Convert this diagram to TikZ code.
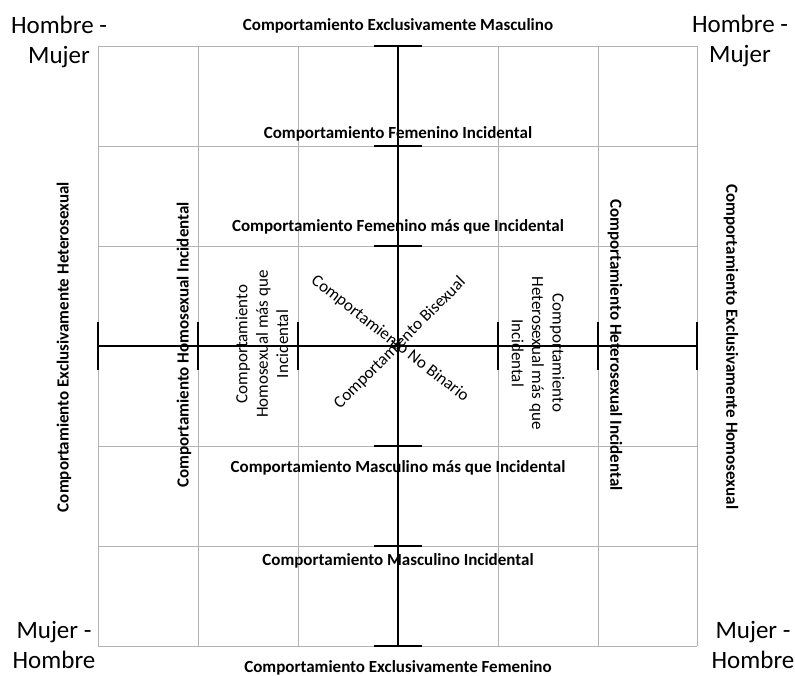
\documentclass[tikz,border=0pt]{standalone}
\usepackage{fontspec}
\setmainfont{Carlito}
\begin{document}
\begin{tikzpicture}[x=1pt,y=-1pt,
  grid/.style={draw=gray!60, line width=0.7pt},
  axis/.style={draw=black, line width=1.8pt},
  lbl/.style={font=\fontsize{17}{20.4}\selectfont\bfseries, inner sep=0pt},
  lblr/.style={font=\fontsize{17}{20.4}\selectfont, inner sep=0pt, align=center},
  corner/.style={font=\fontsize{25}{30}\selectfont, inner sep=0pt, align=center}]
\useasboundingbox (0,0) rectangle (795,675);
% grid
\foreach \x in {98,198,298,498,598,697} \draw[grid] (\x,46) -- (\x,646);
\foreach \y in {46,146,246,446,546,646} \draw[grid] (98,\y) -- (697,\y);
% axes
\coordinate (xl) at (98,346);
\coordinate (xr) at (697,346);
\coordinate (yt) at (398,46);
\coordinate (yb) at (398,646);
\draw[axis] (xl) -- (xr);
\draw[axis] (yt) -- (yb);
\foreach \x in {98,198,298,498,598,697} \draw[axis] (\x,322) -- (\x,370);
\foreach \y in {46,146,246,446,546,646} \draw[axis] (374,\y) -- (422,\y);
% horizontal labels
\node[lbl, anchor=base] (t1) at (398,30) {Comportamiento Exclusivamente Masculino};
\node[lbl, anchor=base] (t2) at (398,138) {Comportamiento Femenino Incidental};
\node[lbl, anchor=base] (t3) at (398,231) {Comportamiento Femenino más que Incidental};
\node[lbl, anchor=base] (t4) at (398,472) {Comportamiento Masculino más que Incidental};
\node[lbl, anchor=base] (t5) at (398,565) {Comportamiento Masculino Incidental};
\node[lbl, anchor=base] (t6) at (398,672) {Comportamiento Exclusivamente Femenino};
% vertical labels
\node[lbl, rotate=90] (v1) at (64,347) {Comportamiento Exclusivamente Heterosexual};
\node[lbl, rotate=90] (v2) at (184,345) {Comportamiento Homosexual Incidental};
\node[lblr, rotate=90] (v3) at (262,344) {Comportamiento\\Homosexual más que\\Incidental};
\node[lblr, rotate=-90] (v4) at (538,353) {Comportamiento\\Heterosexual más que\\Incidental};
\node[lbl, rotate=-90] (v5) at (615,345) {Comportamiento Heterosexual Incidental};
\node[lbl, rotate=-90] (v6) at (731,347) {Comportamiento Exclusivamente Homosexual};
% diagonal labels
\node[lblr, rotate=45] (d1) at (400,343) {Comportamiento Bisexual};
\node[lblr, rotate=-38] (d2) at (390,339) {Comportamiento No Binario};
% corners
\node[corner, anchor=base] (c1) at (59,63) {Hombre -\\Mujer};
\node[corner, anchor=base] (c2) at (740,62) {Hombre -\\Mujer};
\node[corner, anchor=base] (c3) at (54,668) {Mujer -\\Hombre};
\node[corner, anchor=base] (c4) at (753,668) {Mujer -\\Hombre};
\end{tikzpicture}
\end{document}
